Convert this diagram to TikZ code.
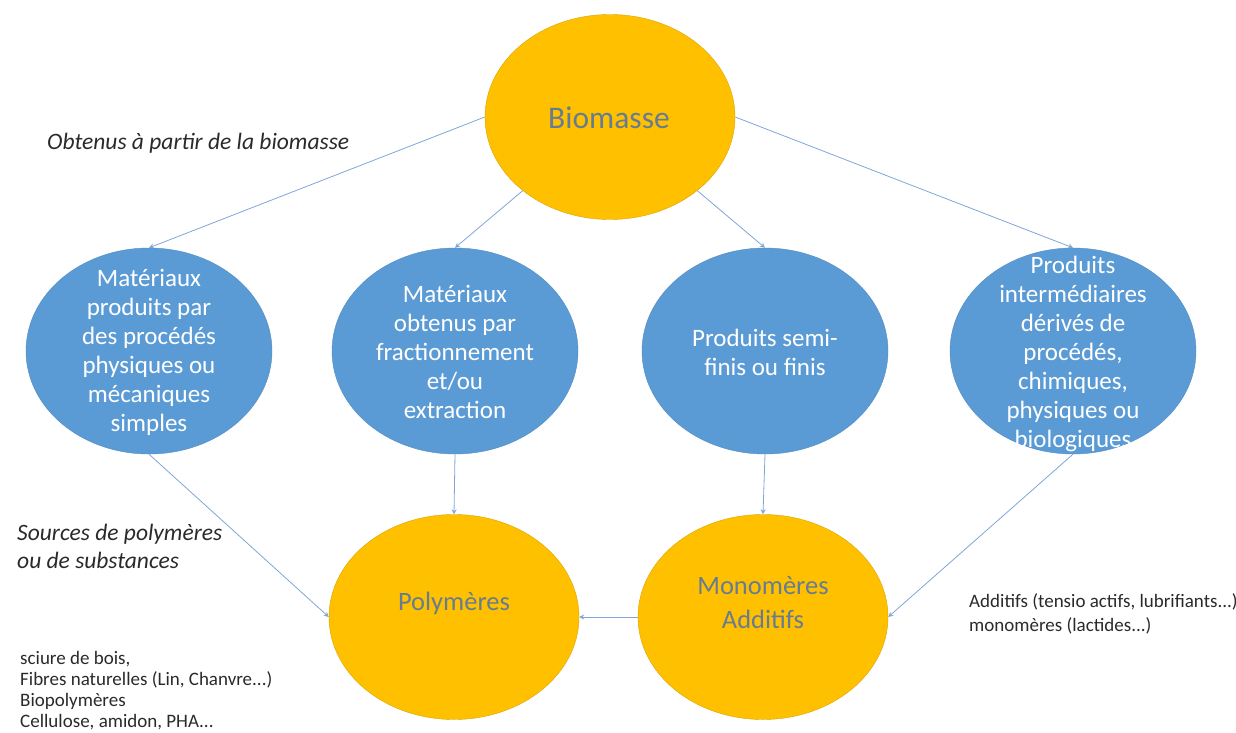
\documentclass[tikz,border=0pt]{standalone}
\usepackage{fontspec}
\setmainfont{Carlito}
\usetikzlibrary{shapes.geometric,arrows.meta,calc}
\definecolor{gold}{HTML}{FFC000}
\definecolor{oblue}{HTML}{5B9BD5}
\definecolor{linec}{HTML}{7FA6D6}
\definecolor{ytext}{HTML}{667C92}
\definecolor{annot}{HTML}{2A2A2A}
\tikzset{
  yel/.style={ellipse,fill=gold,draw=gold!85!black,line width=0.4pt,inner sep=0pt,minimum width=250pt,minimum height=205pt},
  blu/.style={ellipse,fill=oblue,draw=oblue!90!black,line width=0.4pt,inner sep=0pt,minimum width=246pt,minimum height=206pt},
  btxt/.style={text=white,align=center,inner sep=0pt,font=\fontsize{25}{29}\selectfont},
  ytxt/.style={text=ytext,align=center,inner sep=0pt},
  conn/.style={draw=linec,line width=0.8pt,-{Stealth[length=5pt,width=5pt]}},
  note/.style={text=annot,align=left,inner sep=0pt,anchor=north west},
}
\begin{document}
\begin{tikzpicture}[x=1pt,y=-1pt]
\useasboundingbox (0,0) rectangle (1236,733);
% ellipses
\node[yel] (bio) at (610,117) {};
\node[blu] (e1) at (149,351) {};
\node[blu] (e2) at (455,351) {};
\node[blu] (e3) at (765,351) {};
\node[blu] (e4) at (1073,351) {};
\node[yel] (poly) at (454,617) {};
\node[yel] (mono) at (763,617) {};
% texts in ellipses
\node[ytxt,font=\fontsize{31.5}{36}\selectfont] (biot) at (609,118) {Biomasse};
\node[btxt] (e1t) at (149,352) {Matériaux\\produits par\\des procédés\\physiques ou\\mécaniques\\simples};
\node[btxt] (e2t) at (455,352) {Matériaux\\obtenus par\\fractionnement\\et/ou\\extraction};
\node[btxt] (e3t) at (765,352) {Produits semi-\\finis ou finis};
\node[btxt] (e4t) at (1073,354) {Produits\\intermédiaires\\dérivés de\\procédés,\\chimiques,\\physiques ou\\biologiques};
\node[ytxt,font=\fontsize{26.5}{33}\selectfont] (polyt) at (454,603) {Polymères};
\node[ytxt,font=\fontsize{26.5}{34}\selectfont] (monot) at (763,603) {Monomères\\Additifs};
% annotations
\node[note,font=\fontsize{23.5}{28}\itshape] (n1) at (47,133) {Obtenus à partir de la biomasse};
\node[note,font=\fontsize{23.5}{28}\itshape] (n2) at (17,524) {Sources de polymères\\ou de substances};
\node[note,font=\fontsize{19}{21}\selectfont] (n3) at (20,651) {sciure de bois,\\Fibres naturelles (Lin, Chanvre...)\\Biopolymères\\Cellulose, amidon, PHA...};
\node[note,font=\fontsize{19}{24}\selectfont] (n4) at (969,593) {Additifs (tensio actifs, lubrifiants...)\\monomères (lactides...)};
% connectors
\draw[conn] (bio.west) -- (e1.north);
\draw[conn] (bio) -- (e2.north);
\draw[conn] (bio) -- (e3.north);
\draw[conn] (bio.east) -- (e4.north);
\draw[conn] (e1.south) -- (poly.west);
\draw[conn] (e2.south) -- (poly.north);
\draw[conn] (e3.south) -- (mono.north);
\draw[conn] (e4.south) -- (mono.east);
\draw[conn] (mono.west) -- (poly.east);
\end{tikzpicture}
\end{document}
